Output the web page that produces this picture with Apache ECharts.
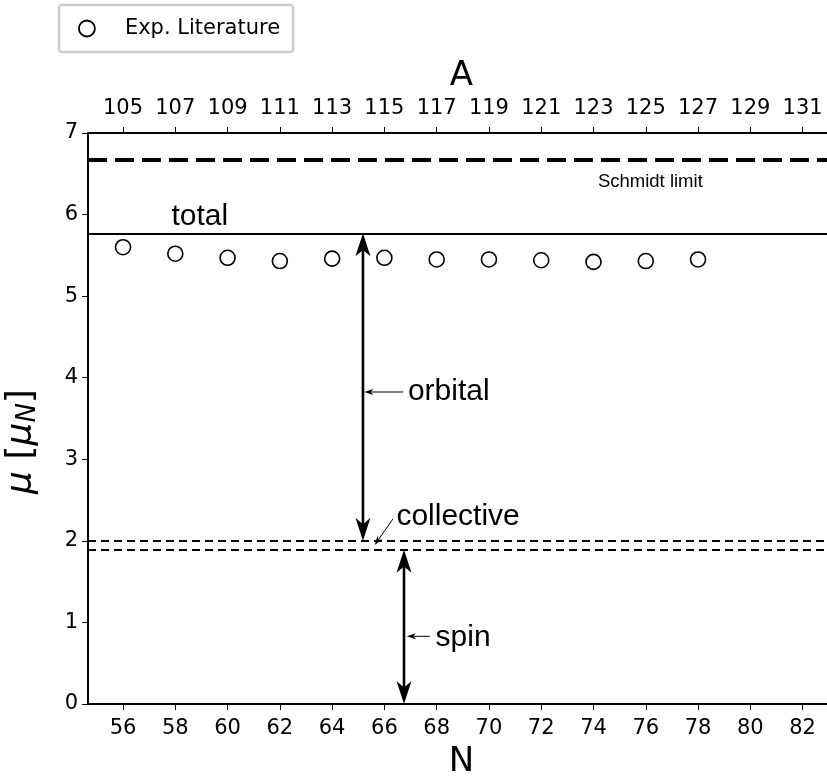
<!DOCTYPE html>
<html>
<head>
<meta charset="utf-8">
<script src="https://cdn.jsdelivr.net/npm/echarts@6/dist/echarts.min.js"></script>
<style>
html,body{margin:0;padding:0;background:#fff;}
#chart{width:827px;height:778px;}
</style>
</head>
<body>
<div id="chart"></div>
<script>
// ---- data ----
const nExp = [56, 58, 60, 62, 64, 66, 68, 70, 72, 74, 76, 78];
const muExp = [5.60, 5.52, 5.47, 5.43, 5.46, 5.47, 5.45, 5.45, 5.44, 5.42, 5.43, 5.45];
const nTicks = [56, 58, 60, 62, 64, 66, 68, 70, 72, 74, 76, 78, 80, 82];
const aTicks = [105, 107, 109, 111, 113, 115, 117, 119, 121, 123, 125, 127, 129, 131];
const yTicks = [0, 1, 2, 3, 4, 5, 6, 7];
const schmidtMu = 6.67;
const totalMu = 5.77;
const collectiveUpper = 2.0;
const collectiveLower = 1.89;
const bigArrowX = [65.18, 66.75];
const bigArrowTop = [5.77, 1.89];
const bigArrowBottom = [2.0, 0];
const smallFromX = [66.72, 67.74, 66.33];
const smallFromY = [3.825, 0.83, 2.27];
const smallToX = [65.23, 66.86, 65.63];
const smallToY = [3.825, 0.83, 1.95];
const annoText = ['total', 'Schmidt limit', 'orbital', 'collective', 'spin'];
const annoX = [57.85, 74.17, 66.9, 66.46, 67.96];
const annoY = [5.975, 6.395, 3.83, 2.30, 0.81];

const xMin = 54.66, xMax = 83.24;
const tickFont = 'DejaVu Sans';
const annoFont = 'Liberation Sans';
const annoSize = [30, 18.5, 30, 30, 30];

function arrowHead(T, d, L, W) {
  const n = [-d[1], d[0]];
  const B = [T[0] - d[0] * L, T[1] - d[1] * L];
  const N = [T[0] - d[0] * L * 0.72, T[1] - d[1] * L * 0.72];
  return {
    shape: [T, [B[0] + n[0] * W / 2, B[1] + n[1] * W / 2], N, [B[0] - n[0] * W / 2, B[1] - n[1] * W / 2]],
    notch: N
  };
}

function makeArrow(p1, p2, both, L, W, lw) {
  const dx = p2[0] - p1[0], dy = p2[1] - p1[1];
  const len = Math.sqrt(dx * dx + dy * dy);
  const d = [dx / len, dy / len];
  const children = [];
  const h2 = arrowHead(p2, d, L, W);
  let start = p1;
  if (both) {
    const h1 = arrowHead(p1, [-d[0], -d[1]], L, W);
    start = h1.notch;
    children.push({type: 'polygon', shape: {points: h1.shape}, style: {fill: '#000'}});
  }
  children.push({type: 'polygon', shape: {points: h2.shape}, style: {fill: '#000'}});
  children.unshift({type: 'line', shape: {x1: start[0], y1: start[1], x2: h2.notch[0], y2: h2.notch[1]},
    style: {stroke: '#000', lineWidth: lw}});
  return {type: 'group', children: children};
}

const chart = echarts.init(document.getElementById('chart'));
const option = {
  animation: false,
  backgroundColor: '#fff',
  legend: {
    data: ['Exp. Literature'],
    left: 59, top: 5,
    padding: [13, 13, 13, 19],
    borderColor: '#cccccc', borderWidth: 2.5, borderRadius: 3,
    itemWidth: 16, itemHeight: 16,
    icon: 'circle',
    itemStyle: {color: '#fff', borderColor: '#000', borderWidth: 1.8},
    textStyle: {fontFamily: tickFont, fontSize: 21, color: '#000', padding: [0, 0, 0, 25]}
  },
  grid: {left: 88, top: 133, right: -8, bottom: 74, containLabel: false, outerBoundsMode: 'none'},
  xAxis: [{
    type: 'value', min: xMin, max: xMax, position: 'bottom',
    name: 'N', nameLocation: 'middle', nameGap: 41,
    nameTextStyle: {fontFamily: tickFont, fontSize: 34, color: '#000'},
    axisLine: {show: true, onZero: false, lineStyle: {color: '#000', width: 2}},
    axisTick: {show: true, customValues: nTicks, length: 6, lineStyle: {color: '#000', width: 1}},
    axisLabel: {show: true, customValues: nTicks, margin: 14, fontFamily: tickFont, fontSize: 21, color: '#000'},
    splitLine: {show: false}
  }, {
    type: 'value', min: xMin, max: xMax, position: 'top',
    name: 'A', nameLocation: 'middle', nameGap: 35,
    nameTextStyle: {fontFamily: tickFont, fontSize: 34, color: '#000'},
    axisLine: {show: true, onZero: false, lineStyle: {color: '#000', width: 2}},
    axisTick: {show: true, customValues: nTicks, length: 6, lineStyle: {color: '#000', width: 1}},
    axisLabel: {show: true, customValues: nTicks, margin: 14, fontFamily: tickFont, fontSize: 21, color: '#000',
      formatter: function (v) { const i = nTicks.indexOf(Math.round(v)); return i >= 0 ? String(aTicks[i]) : ''; }},
    splitLine: {show: false}
  }],
  yAxis: {
    type: 'value', min: 0, max: 7, interval: 1,
    name: '{it|μ} [{it|μ}{sub|N}]', nameLocation: 'middle', nameGap: 47, nameRotate: 90,
    nameTextStyle: {fontFamily: tickFont, fontSize: 36, color: '#000', padding: [0, 46, 0, 0],
      rich: {
        it: {fontFamily: tickFont, fontSize: 36, fontStyle: 'italic', color: '#000'},
        sub: {fontFamily: tickFont, fontSize: 26, fontStyle: 'italic', color: '#000', verticalAlign: 'bottom', padding: [12, 0, 0, 0]}
      }},
    axisLine: {show: true, onZero: false, lineStyle: {color: '#000', width: 2}},
    axisTick: {show: true, length: 6, lineStyle: {color: '#000', width: 1}},
    axisLabel: {margin: 10, fontFamily: tickFont, fontSize: 21, color: '#000',
      formatter: function (v) { return yTicks.indexOf(v) >= 0 ? String(v) : ''; }},
    splitLine: {show: false}
  },
  series: [{
    name: 'Exp. Literature',
    type: 'scatter',
    xAxisIndex: 0,
    symbol: 'circle', symbolSize: 15,
    itemStyle: {color: '#fff', borderColor: '#000', borderWidth: 1.6, opacity: 1},
    data: nExp.map((n, i) => [n, muExp[i]]),
    z: 3,
    markLine: {
      silent: true, symbol: 'none', label: {show: false},
      data: [
        {yAxis: schmidtMu, lineStyle: {color: '#000', width: 4, type: [19, 8]}},
        {yAxis: totalMu, lineStyle: {color: '#000', width: 2, type: 'solid'}},
        {yAxis: collectiveUpper, lineStyle: {color: '#000', width: 2, type: [8, 5]}},
        {yAxis: collectiveLower, lineStyle: {color: '#000', width: 2, type: [8, 5]}}
      ]
    }
  }, {
    name: 'bigArrows', type: 'custom', xAxisIndex: 0, silent: true, clip: false, z: 5,
    data: bigArrowX.map((x, i) => [x, bigArrowTop[i], bigArrowBottom[i]]),
    renderItem: function (params, api) {
      const p1 = api.coord([api.value(0), api.value(1)]);
      const p2 = api.coord([api.value(0), api.value(2)]);
      return makeArrow(p1, p2, true, 23, 15, 2.6);
    }
  }, {
    name: 'smallArrows', type: 'custom', xAxisIndex: 0, silent: true, clip: false, z: 5,
    data: smallFromX.map((x, i) => [x, smallFromY[i], smallToX[i], smallToY[i]]),
    renderItem: function (params, api) {
      const p1 = api.coord([api.value(0), api.value(1)]);
      const p2 = api.coord([api.value(2), api.value(3)]);
      return makeArrow(p1, p2, false, 9, 6, 1);
    }
  }, {
    name: 'annotations', type: 'custom', xAxisIndex: 0, silent: true, clip: false, z: 6,
    data: annoX.map((x, i) => [x, annoY[i], i]),
    renderItem: function (params, api) {
      const i = api.value(2);
      const p = api.coord([api.value(0), api.value(1)]);
      return {type: 'text', x: p[0], y: p[1],
        style: {text: annoText[i], fill: '#000', font: annoSize[i] + 'px "' + annoFont + '"',
          textAlign: 'left', textVerticalAlign: 'middle'}};
    }
  }]
};
chart.setOption(option);
</script>
</body>
</html>
